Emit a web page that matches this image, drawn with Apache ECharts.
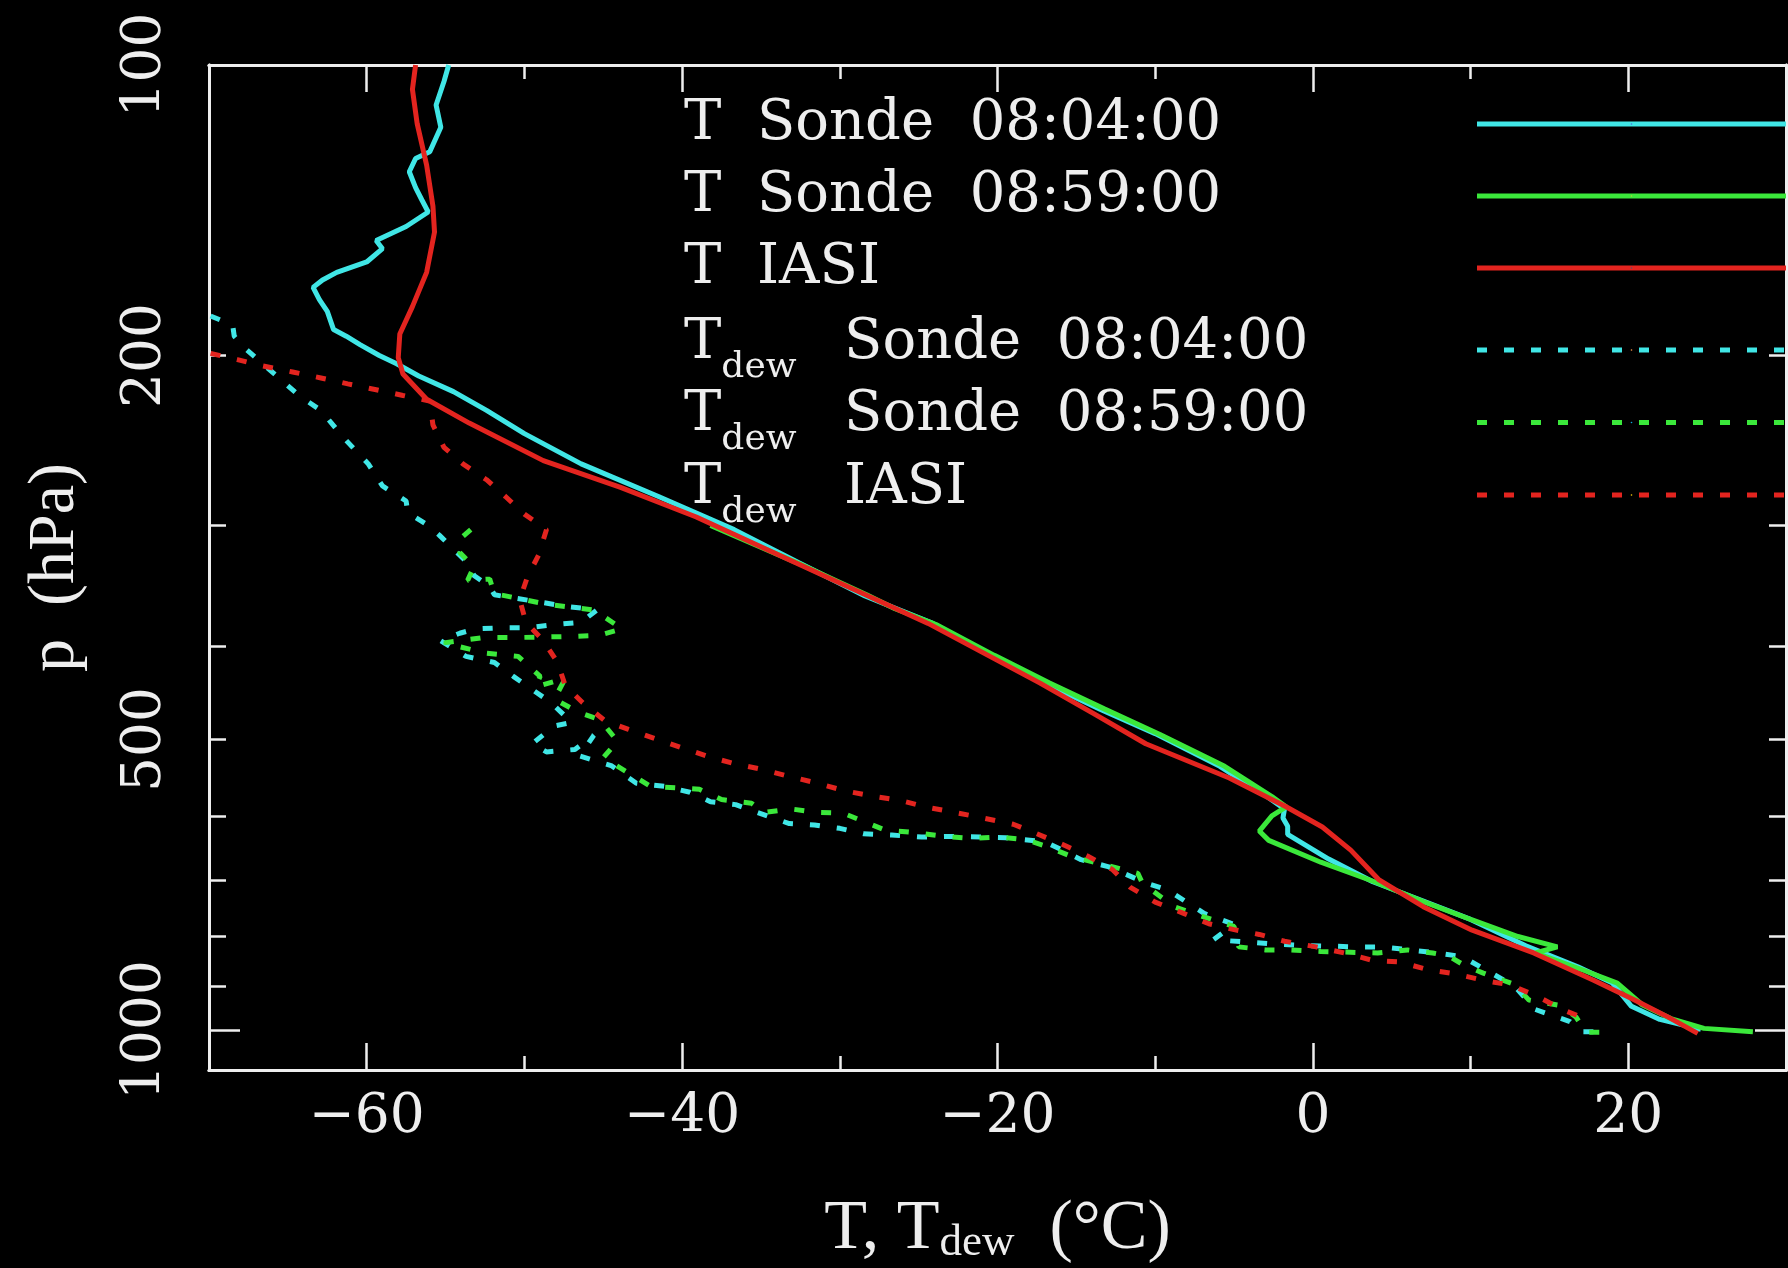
<!DOCTYPE html>
<html>
<head>
<meta charset="utf-8">
<title>T / Tdew profiles</title>
<script src="https://cdn.jsdelivr.net/npm/echarts@6/dist/echarts.min.js"></script>
<style>
  html, body { margin: 0; padding: 0; background: #000; }
  #chart { width: 1788px; height: 1268px; }
</style>
</head>
<body>
<div id="chart"></div>
<script>
// axis ticks
const pLabels = [100, 200, 500, 1000];
const pMajor = [100, 1000];
const pMinor = [200, 300, 400, 500, 600, 700, 800, 900];
const tLabels = [-60, -40, -20, 0, 20];
const tMinor = [-50, -30, -10, 10];

// profiles, [T (°C), p (hPa)]
const tSonde0804 = [
  [-54.8, 100], [-55.1, 104], [-55.6, 110], [-55.3, 116], [-56.0, 123], [-56.9, 125],
  [-57.3, 129], [-56.9, 134], [-56.5, 138], [-56.1, 142], [-57.5, 147], [-59.4, 152],
  [-59.0, 155], [-60.0, 160], [-61.9, 164], [-62.8, 167], [-63.4, 170], [-63.0, 175],
  [-62.5, 180], [-62.1, 188], [-61.3, 191], [-60.4, 195], [-59.2, 200], [-58.1, 204],
  [-56.7, 210], [-54.5, 218], [-52.4, 228], [-50.0, 241], [-46.4, 259], [-41.5, 280],
  [-36.7, 303], [-32.6, 328], [-28.4, 355], [-24.1, 379], [-20.5, 408], [-17.0, 437],
  [-13.5, 465], [-10.0, 493], [-5.9, 533], [-2.9, 573], [-1.8, 590], [-1.9, 603],
  [-1.6, 615], [-1.6, 627], [1.0, 665], [3.8, 702], [7.0, 735], [10.0, 768],
  [13.5, 818], [16.8, 860], [19.0, 894], [20.2, 945], [22.0, 975], [24.6, 998]
];
const tSonde0859 = [
  [-38.2, 300], [-32.7, 328], [-28.3, 354], [-26.5, 366], [-23.9, 380], [-20.2, 409],
  [-16.7, 437], [-13.2, 465], [-9.7, 494], [-5.6, 533], [-2.6, 573], [-1.7, 587],
  [-2.6, 600], [-3.4, 622], [-2.8, 636], [0.5, 670], [3.9, 702], [7.0, 736],
  [10.1, 769], [13.0, 800], [15.5, 820], [14.1, 832], [17.0, 865], [19.3, 894],
  [20.9, 942], [22.7, 973], [24.8, 996], [27.9, 1004]
];
const tIasi = [
  [-56.9, 100], [-57.1, 106], [-56.8, 115], [-56.2, 127], [-55.8, 140], [-55.7, 149],
  [-56.2, 164], [-57.1, 178], [-57.9, 190], [-58.0, 201], [-57.7, 209], [-56.2, 222],
  [-53.5, 235], [-48.8, 257], [-43.9, 274], [-39.1, 294], [-32.8, 328], [-24.4, 379],
  [-17.3, 437], [-13.9, 470], [-10.6, 505], [-5.3, 548], [-1.7, 587], [0.6, 616],
  [2.4, 651], [4.2, 699], [7.0, 745], [10.1, 788], [14.0, 832], [17.8, 888],
  [20.4, 931], [22.5, 969], [24.4, 1008]
];
const dewSonde0804 = [
  [-69.9, 182], [-68.5, 186], [-68.4, 191], [-67.8, 196], [-66.6, 204], [-65.7, 210],
  [-64.3, 220], [-62.9, 228], [-61.5, 243], [-59.9, 259], [-59.0, 273], [-57.5, 283],
  [-57.4, 291], [-56.1, 300], [-55.4, 307], [-53.6, 328], [-53.2, 338], [-52.2, 347],
  [-51.9, 354], [-47.3, 364], [-45.4, 367], [-46.4, 378], [-48.1, 380], [-49.8, 383],
  [-51.5, 383], [-53.1, 384], [-54.1, 388], [-55.3, 395], [-53.7, 410], [-51.9, 416],
  [-50.7, 430], [-48.3, 458], [-47.0, 480], [-48.1, 484], [-49.5, 505], [-48.6, 515],
  [-46.8, 512], [-45.6, 495], [-46.5, 520], [-44.5, 532], [-42.9, 555], [-41.1, 559],
  [-39.5, 567], [-38.2, 580], [-36.6, 584], [-34.6, 600], [-33.2, 611], [-31.6, 613],
  [-30.0, 618], [-28.5, 626], [-26.7, 628], [-24.8, 631], [-23.0, 630], [-21.1, 631],
  [-19.5, 632], [-17.0, 638], [-15.9, 651], [-14.7, 666], [-13.0, 677], [-10.5, 705],
  [-9.2, 716], [-6.9, 757], [-5.0, 777], [-6.3, 806], [-2.7, 814], [-0.8, 817],
  [2.8, 820], [4.4, 820], [7.9, 832], [9.2, 838], [9.9, 847], [12.8, 901],
  [14.1, 952], [16.3, 980], [17.0, 1004], [18.0, 1004]
];
const dewSonde0859 = [
  [-53.4, 303], [-54.1, 310], [-54.1, 320], [-53.2, 331], [-53.6, 342], [-52.2, 341],
  [-51.9, 353], [-48.6, 362], [-45.6, 367], [-43.8, 384], [-45.3, 390], [-47.0, 391],
  [-50.6, 392], [-52.6, 392], [-55.1, 397], [-52.4, 407], [-50.4, 410], [-49.0, 430],
  [-49.3, 441], [-47.4, 432], [-48.1, 454], [-46.5, 469], [-45.2, 477], [-44.1, 502],
  [-45.0, 522], [-43.6, 539], [-42.0, 559], [-38.9, 563], [-37.5, 577], [-35.6, 582],
  [-34.8, 595], [-33.1, 590], [-31.4, 595], [-29.8, 596], [-28.9, 604], [-27.2, 620],
  [-25.0, 625], [-23.3, 630], [-21.6, 633], [-19.9, 631], [-18.2, 635], [-16.9, 645],
  [-15.3, 661], [-13.7, 671], [-11.1, 688], [-10.8, 705], [-8.8, 745], [-7.6, 757],
  [-5.0, 781], [-4.7, 820], [-3.0, 826], [-1.4, 826], [0.5, 829], [4.1, 832],
  [6.0, 826], [7.6, 832], [8.6, 838], [9.5, 855], [10.8, 873], [12.8, 897],
  [13.7, 931], [15.7, 943], [16.7, 970], [17.3, 1005], [18.9, 1005]
];
const dewIasi = [
  [-69.9, 199], [-68.2, 202], [-66.6, 205], [-64.7, 208], [-62.9, 211], [-61.2, 214],
  [-59.4, 217], [-57.7, 220], [-56.0, 223], [-55.8, 236], [-55.1, 249], [-53.9, 259],
  [-52.4, 269], [-51.2, 280], [-50.0, 292], [-48.6, 303], [-49.1, 322], [-49.8, 339],
  [-50.3, 358], [-49.9, 378], [-48.8, 395], [-47.9, 416], [-47.4, 440], [-46.3, 458],
  [-44.9, 478], [-43.4, 488], [-41.7, 499], [-40.0, 510], [-38.3, 521], [-36.6, 530],
  [-34.9, 537], [-33.2, 546], [-31.4, 555], [-29.7, 565], [-28.0, 572], [-26.2, 578],
  [-24.4, 588], [-22.7, 595], [-20.9, 603], [-19.0, 612], [-17.6, 625], [-15.9, 642],
  [-14.3, 660], [-12.7, 682], [-11.6, 711], [-10.0, 737], [-8.2, 757], [-6.6, 776],
  [-5.0, 787], [-3.4, 796], [-1.8, 809], [0.2, 820], [2.0, 832], [3.8, 847],
  [5.5, 850], [7.3, 866], [9.1, 875], [10.8, 888], [12.5, 898], [14.2, 922],
  [15.8, 952], [17.6, 978]
];

const cyan = '#40e6e6';
const green = '#3be83b';
const red = '#e3241f';
const white = '#eeeeee';
const serif = 'DejaVu Serif';
const titleFont = 'Liberation Serif';

// 线条
function profile(name, data, color, dotted) {
  return {
    name: name,
    type: 'line',
    data: data,
    symbol: 'none',
    showSymbol: false,
    animation: false,
    clip: true,
    emphasis: { disabled: true },
    lineStyle: dotted
      ? { color: color, width: 5, type: [10, 17] }
      : { color: color, width: 5 }
  };
}

// 坐标轴
const axisLine = { show: true, onZero: false, lineStyle: { color: white, width: 3 } };
function tick(values, len) {
  return { show: true, inside: true, length: len, customValues: values, lineStyle: { color: white, width: 2.5 } };
}
function xAx(position, values, len) {
  return {
    type: 'value', position: position, min: -70, max: 30,
    axisLine: axisLine, axisTick: tick(values, len),
    axisLabel: { show: false }, splitLine: { show: false }
  };
}
function yAx(position, values, len) {
  return {
    type: 'log', logBase: 10, position: position, min: 100, max: 1100, inverse: true,
    axisLine: axisLine, axisTick: tick(values, len),
    axisLabel: { show: false }, splitLine: { show: false }
  };
}

const xMain = xAx('bottom', tLabels, 27);
xMain.axisLabel = {
  show: true,
  customValues: tLabels,
  color: white,
  fontFamily: serif,
  fontSize: 55,
  lineHeight: 55,
  margin: 20,
  formatter: v => (v < 0 ? '\u2212' + (-v) : String(v))
};
xMain.name = '{m|T, T}{s|dew}{m|  (°C)}';
xMain.nameLocation = 'middle';
xMain.nameGap = 125;
xMain.nameTextStyle = {
  rich: {
    m: { color: white, fontFamily: titleFont, fontSize: 70, padding: [0, 0, 20, 0] },
    s: { color: white, fontFamily: titleFont, fontSize: 45, padding: [26, 0, 19, 0] }
  }
};

const yMain = yAx('left', pMajor, 31);
yMain.axisLabel = {
  show: true,
  customValues: pLabels,
  rotate: 90,
  color: white,
  fontFamily: serif,
  fontSize: 55,
  lineHeight: 55,
  margin: 36,
  formatter: v => String(Math.round(v))
};
yMain.name = 'p  (hPa)';
yMain.nameLocation = 'middle';
yMain.nameGap = 120;
yMain.nameTextStyle = { color: white, fontFamily: titleFont, fontSize: 66, lineHeight: 66 };

// 图例
const tNames = ['T Sonde 08:04:00', 'T Sonde 08:59:00', 'T IASI'];
const dewNames = ['Tdew Sonde 08:04:00', 'Tdew Sonde 08:59:00', 'Tdew IASI'];

function legendText(name) {
  if (name.indexOf('Tdew') === 0) {
    return '{m|T}{s|dew}{m|  ' + name.slice(5).replace(' ', '  ') + '}';
  }
  return '{t|' + name.replace(/ /g, '  ') + '}';
}

function legend(names, top, gap) {
  return {
    orient: 'vertical',
    left: 684,
    top: top,
    padding: 0,
    align: 'right',
    itemWidth: 309,
    itemHeight: 2,
    itemGap: gap,
    selectedMode: false,
    formatter: legendText,
    lineStyle: { width: 'inherit' },
    textStyle: {
      color: white,
      width: 788,
      backgroundColor: 'rgba(0,0,0,0)',
      rich: {
        t: { color: white, fontFamily: serif, fontSize: 56, padding: [7, 0, 7, 0], align: 'left' },
        m: { color: white, fontFamily: serif, fontSize: 56, padding: [0, 0, 14, 0], align: 'left' },
        s: { color: white, fontFamily: serif, fontSize: 36, padding: [35, 12, 0, 0], align: 'left' }
      }
    },
    data: names
  };
}

const option = {
  backgroundColor: '#000',
  animation: false,
  grid: { left: 209, right: 2, top: 65, bottom: 198, outerBoundsMode: 'none' },
  xAxis: [xMain, xAx('bottom', tMinor, 14), xAx('top', tLabels, 27), xAx('top', tMinor, 14)],
  yAxis: [yMain, yAx('left', pMinor, 17), yAx('right', pMajor, 31), yAx('right', pMinor, 17)],
  legend: [legend(tNames, 89, 2), legend(dewNames, 314.5, 1.5)],
  series: [
    profile('T Sonde 08:04:00', tSonde0804, cyan, false),
    profile('T Sonde 08:59:00', tSonde0859, green, false),
    profile('T IASI', tIasi, red, false),
    profile('Tdew Sonde 08:04:00', dewSonde0804, cyan, true),
    profile('Tdew Sonde 08:59:00', dewSonde0859, green, true),
    profile('Tdew IASI', dewIasi, red, true)
  ]
};

const chart = echarts.init(document.getElementById('chart'), null, { width: 1788, height: 1268 });
chart.setOption(option);
</script>
</body>
</html>
